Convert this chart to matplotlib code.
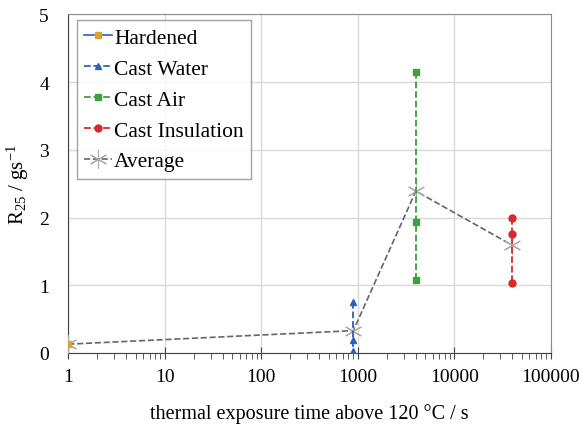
import matplotlib
matplotlib.use("Agg")
import matplotlib.pyplot as plt
from matplotlib.ticker import LogLocator, FixedLocator, NullFormatter, FixedFormatter

plt.rcParams["font.family"] = ["Liberation Serif", "DejaVu Serif"]
plt.rcParams["mathtext.fontset"] = "custom"
plt.rcParams["mathtext.rm"] = "Liberation Serif"
plt.rcParams["mathtext.it"] = "Liberation Serif:italic"

# data
hard_t = [1]
hard_r = [0.13]

water_t = [900, 900, 900]
water_r = [0.76, 0.19, 0.03]

air_t = [4000, 4000, 4000]
air_r = [4.15, 1.94, 1.08]

insul_t = [40000, 40000, 40000]
insul_r = [1.99, 1.75, 1.04]

avg_t = [1, 900, 4000, 40000]
avg_r = [0.13, 0.33, 2.39, 1.59]

x_ticks = [1, 10, 100, 1000, 10000, 100000]
x_labels = ["1", "10", "100", "1000", "10000", "100000"]
y_ticks = [0, 1, 2, 3, 4, 5]

C_BLUE = "#2f5fbf"
C_GREEN = "#3ca03c"
C_RED = "#d42a2a"
C_GOLD = "#d4a62a"
C_GREY = "#666666"

fig = plt.figure(figsize=(5.8, 4.31), dpi=100)
ax = fig.add_axes([0.1178, 0.1787, 0.8317, 0.7858])

ax.plot(hard_t, hard_r, "-", color=C_BLUE, lw=1.2, marker="s", ms=4,
        mfc=C_GOLD, mec=C_GOLD, label="Hardened", zorder=4)
ax.plot(water_t, water_r, "--", color=C_BLUE, lw=1.3, marker="^", ms=5,
        label="Cast Water", zorder=4)
ax.plot(air_t, air_r, "--", color=C_GREEN, lw=1.3, marker="s", ms=5,
        label="Cast Air", zorder=4)
ax.plot(insul_t, insul_r, "--", color=C_RED, lw=1.3, marker="o", ms=5,
        label="Cast Insulation", zorder=4)
ax.plot(avg_t, avg_r, "--", color=C_GREY, lw=1.2, marker=(6, 2, 0), ms=13,
        mec="#aaaaaa", mew=0.8, label="Average", zorder=3)

ax.set_xscale("log")
ax.set_xlim(1, 100000)
ax.set_ylim(0, 5)
ax.xaxis.set_major_locator(FixedLocator(x_ticks))
ax.xaxis.set_major_formatter(FixedFormatter(x_labels))
ax.xaxis.set_minor_locator(LogLocator(base=10, subs=range(2, 10)))
ax.xaxis.set_minor_formatter(NullFormatter())
ax.set_yticks(y_ticks)

ax.grid(True, which="major", color="#d9d9d9", lw=1)
ax.set_axisbelow(True)
for s in ax.spines.values():
    s.set_color("#8c8c8c")
ax.spines["bottom"].set_color("#404040")
ax.spines["left"].set_color("#404040")

ax.tick_params(axis="x", which="major", direction="inout", length=8, color="#404040",
               labelsize=14, pad=7)
ax.tick_params(axis="x", which="minor", direction="out", length=4, color="#404040")
ax.tick_params(axis="y", length=0, labelsize=14, pad=14)

ax.set_xlabel("thermal exposure time above 120 °C / s", fontsize=14.5, labelpad=13)
ax.set_ylabel(r"R$_{25}$ / gs$^{-1}$", fontsize=15, labelpad=6)

leg = ax.legend(loc="upper left", fontsize=15.5, frameon=True, fancybox=False,
                edgecolor="#8c8c8c", handlelength=1.3, handletextpad=0.1,
                labelspacing=0.5, borderpad=0.35, borderaxespad=0,
                bbox_to_anchor=(0.017, 0.982))
leg.get_frame().set_linewidth(1)

fig.savefig("out.png", dpi=100, facecolor="white")
